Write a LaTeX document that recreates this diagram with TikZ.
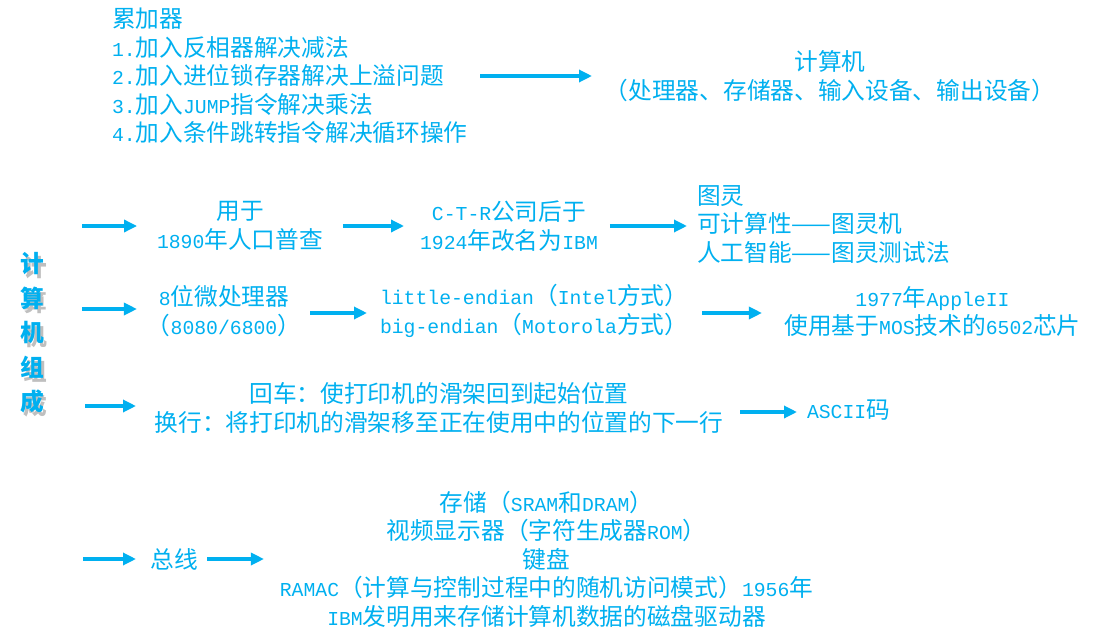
\documentclass[tikz,border=0pt]{standalone}
\usepackage{fontspec}
\setmainfont{Noto Sans CJK SC}
\newfontfamily\latmono{Liberation Mono}
\usetikzlibrary{arrows.meta}
\definecolor{cb}{RGB}{0,176,240}
\newcommand\lat[1]{{\fontsize{19.75}{28.5}\selectfont\latmono #1}}
\tikzset{
  txt/.style={inner sep=0pt, outer sep=0pt, text=cb, font=\fontsize{23.7}{28.5}\selectfont, align=center},
  arr/.style={draw=cb, line width=3.2pt, -{Triangle[length=13pt,width=12pt]}},
  ttl/.style={inner sep=0pt, outer sep=0pt, align=center, font=\fontsize{23.7}{34.5}\selectfont\bfseries},
}
\begin{document}
\begin{tikzpicture}[x=1pt,y=-1pt]
\fill[white] (0,0) rectangle (1096,640);
\useasboundingbox (0,0) rectangle (1096,640);

% top block
\node[txt, align=left, anchor=west] (acc) at (112,76) {累加器\\\lat{1.}加入反相器解决减法\\\lat{2.}加入进位锁存器解决上溢问题\\\lat{3.}加入\lat{JUMP}指令解决乘法\\\lat{4.}加入条件跳转指令解决循环操作};
\node[txt] (comp) at (830,76) {计算机\\（处理器、存储器、输入设备、输出设备）};

% title with its soft grey shadow
\node[ttl, text=black, opacity=0.25] (titleshadow) at (35.5,337) {计\\算\\机\\组\\成};
\node[ttl, text=cb] (title) at (32,333) {计\\算\\机\\组\\成};

% row 1
\node[txt] (r1a) at (240,226) {用于\\\lat{1890}年人口普查};
\node[txt] (r1b) at (509,226) {\lat{C-T-R}公司后于\\\lat{1924}年改名为\lat{IBM}};
\node[txt, align=left, anchor=west] (r1c) at (697,224.5) {图灵\\可计算性——图灵机\\人工智能——图灵测试法};

% row 2
\node[txt] (r2a) at (224,311) {\lat{8}位微处理器\\（\lat{8080/6800}）};
\node[txt, align=left, anchor=west] (r2b) at (380,311) {\lat{little-endian}（\lat{Intel}方式）\\\lat{big-endian}（\lat{Motorola}方式）};
\node[txt] (r2c) at (932.5,311.5) {\lat{1977}年\lat{AppleII}\\使用基于\lat{MOS}技术的\lat{6502}芯片};

% row 3
\node[txt] (r3a) at (439,408) {回车：使打印机的滑架回到起始位置\\换行：将打印机的滑架移至正在使用中的位置的下一行};
\node[txt, anchor=west] (r3b) at (807,410) {\lat{ASCII}码};

% row 4
\node[txt] (r4a) at (174,559) {总线};
\node[txt] (r4b) at (546.5,559) {存储（\lat{SRAM}和\lat{DRAM}）\\视频显示器（字符生成器\lat{ROM}）\\键盘\\\lat{RAMAC}（计算与控制过程中的随机访问模式）\lat{1956}年\\\lat{IBM}发明用来存储计算机数据的磁盘驱动器};

% free ends of the left arrows
\coordinate (s1) at (82,226);
\coordinate (s2) at (82,309);
\coordinate (s3) at (85,406);
\coordinate (s4) at (83,559);

% connectors
\draw[arr, shorten <=12.5, shorten >=12.85] (acc.east) -- (acc.east -| comp.west);

\draw[arr, shorten >=20] (s1) -- (s1 -| r1a.west);
\draw[arr, shorten <=20, shorten >=16.1] (r1a.east) -- (r1a.east -| r1b.west);
\draw[arr, shorten <=12.1, shorten >=10] (r1b.east) -- (r1b.east -| r1c.west);

\draw[arr, shorten >=10] (s2) -- (s2 -| r2a.west);
\draw[arr, shorten <=9, shorten >=13] ([yshift=-2pt]r2a.east) -- ([yshift=-2pt]r2a.east -| r2b.west);
\draw[arr, shorten <=14, shorten >=22.4] ([yshift=-2pt]r2b.east) -- ([yshift=-2pt]r2b.east -| r2c.west);

\draw[arr, shorten >=18.6] (s3) -- (s3 -| r3a.west);
\draw[arr, shorten <=16.6, shorten >=10] ([yshift=-4pt]r3a.east) -- ([yshift=-4pt]r3a.east -| r3b.west);

\draw[arr, shorten >=14.3] (s4) -- (s4 -| r4a.west);
\draw[arr, shorten <=9.3, shorten >=15.9] (r4a.east) -- (r4a.east -| r4b.west);
\end{tikzpicture}
\end{document}
